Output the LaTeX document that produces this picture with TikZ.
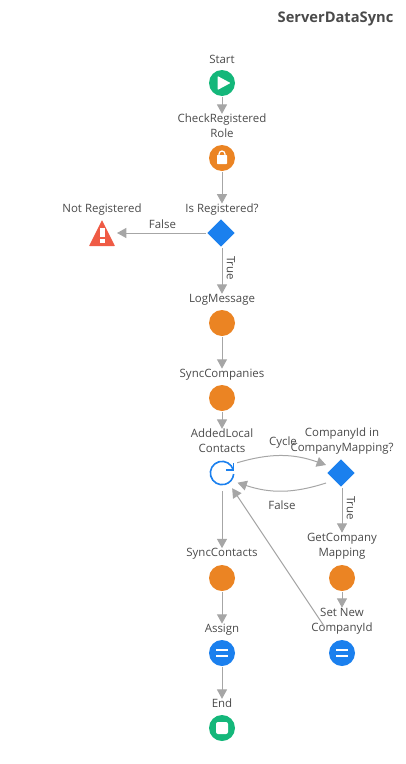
\documentclass[tikz,border=0pt]{standalone}
\usepackage{fontspec}
\setmainfont{Open Sans}
\usetikzlibrary{arrows.meta,shapes.geometric}
\definecolor{flowgreen}{HTML}{14B77A}
\definecolor{floworange}{HTML}{EB8423}
\definecolor{flowblue}{HTML}{1B80EE}
\definecolor{flowred}{HTML}{EF5B45}
\definecolor{flowgrey}{HTML}{A6A6A6}
\definecolor{flowtext}{HTML}{4A4A4A}
\begin{document}
\begin{tikzpicture}[x=0.75pt, y=-0.75pt,
	every node/.style={text=flowtext, font=\fontsize{8.6}{11.25}\selectfont, inner sep=0pt, align=center},
	startend/.style={circle, fill=flowgreen, minimum size=19.5pt, outer sep=0.75pt},
	action/.style={circle, fill=floworange, minimum size=19.5pt, outer sep=0.75pt},
	assign/.style={circle, fill=flowblue, minimum size=19.5pt, outer sep=0.75pt},
	decision/.style={diamond, fill=flowblue, minimum size=21pt, outer sep=0.75pt, aspect=1},
	flow/.style={draw=flowgrey, line width=0.75pt, -{Triangle[length=7pt,width=7.5pt,fill=flowgrey]}}]

	\useasboundingbox (0,0) rectangle (406,764);

	\node[font=\fontsize{11}{13}\selectfont\bfseries] (title) at (335.5,19) {ServerDataSync};

	% main column
	\node (startlabel) at (222,59) {Start};
	\node[startend] (start) at (222,83) {};
	\node (checklabel) at (222,126) {CheckRegistered\\Role};
	\node[action] (check) at (222,158) {};
	\node (isreglabel) at (222,209.5) {Is Registered?};
	\node[decision] (isreg) at (221,233) {};
	\node (notreglabel) at (102,209.5) {Not Registered};
	\node[minimum size=19.5pt, outer sep=1.5pt] (notreg) at (102,233) {};
	\node (loglabel) at (222,299.5) {LogMessage};
	\node[action] (log) at (222,323) {};
	\node (synccolabel) at (222,374.5) {SyncCompanies};
	\node[action] (syncco) at (222,398) {};
	\node (addedlabel) at (222,441) {AddedLocal\\Contacts};
	\node[circle, minimum size=27pt] (added) at (222,473) {};
	\node (synclabel) at (222,554) {SyncContacts};
	\node[action] (sync) at (222,578) {};
	\node (assignlabel) at (222,629.5) {Assign};
	\node[assign] (assign) at (222,653) {};
	\node (endlabel) at (222,703.5) {End};
	\node[startend] (end) at (222,728) {};

	% right column
	\node (companylabel) at (342,441) {CompanyId in\\CompanyMapping?};
	\node[decision] (company) at (341,473) {};
	\node (getlabel) at (342,546) {GetCompany\\Mapping};
	\node[action] (get) at (342,578) {};
	\node (setlabel) at (342,621) {Set New\\CompanyId};
	\node[assign] (setid) at (342,653) {};

	% icons
	\fill[white, rounded corners=0.6pt] (217.5,76) -- (230.5,83) -- (217.5,90) -- cycle;
	\fill[white, rounded corners=0.5pt] (217,155) rectangle (227,164);
	\draw[white, line width=0.9pt] (219,156) -- (219,154) arc[start angle=180, end angle=0, radius=2.25pt] -- (225,156);
	\fill[white, rounded corners=1.5pt] (216,722) rectangle (228,734);
	\foreach \x in {222,342} {
		\fill[white] (\x-6,649) rectangle (\x+6,651);
		\fill[white] (\x-6,655) rectangle (\x+6,657);
	}
	\fill[flowred, rounded corners=0.4pt] (102,220) -- (115,246) -- (89,246) -- cycle;
	\fill[white] (99.5,228) rectangle (104.5,237);
	\fill[white] (99.5,239) rectangle (104.5,243);
	\draw[flowblue, line width=1.2pt] (233.3,470) arc[start angle=15, end angle=355, radius=8.75pt];
	\draw[flowblue, line width=1.2pt] (233.3,463) -- (233.3,470) -- (226,470);

	% connectors
	\draw[flow] (start) -- (checklabel);
	\draw[flow] (check) -- (isreglabel);
	\draw[flow] (loglabel |- isreg.south) -- (loglabel);
	\node[rotate=-90] (truelabel) at (231,268) {True};
	\draw[flow] (isreg) -- node[pos=0.49, above=3pt] (falselabel) {False} (notreg);
	\draw[flow] (log) -- (synccolabel);
	\draw[flow] (syncco) -- (addedlabel);
	\draw[flow] (added) -- (synclabel);
	\draw[flow] (sync) -- (assignlabel);
	\draw[flow] (assign) -- (endlabel);
	\draw[flow] (added.34) to[bend left=18] ([shift={(0,-8)}]company.west);
	\node (cyclelabel) at (283,443) {Cycle};
	\draw[flow] ([shift={(0,10)}]company.west) to[bend left=18] (added.-32);
	\node (backlabel) at (282,505) {False};
	\draw[flow] (getlabel |- company.south) -- (getlabel);
	\node[rotate=-90] (truetwolabel) at (351,508) {True};
	\draw[flow] (get) -- (setlabel);
	\draw[flow, shorten <=14pt] (setid) -- (added);
\end{tikzpicture}
\end{document}
